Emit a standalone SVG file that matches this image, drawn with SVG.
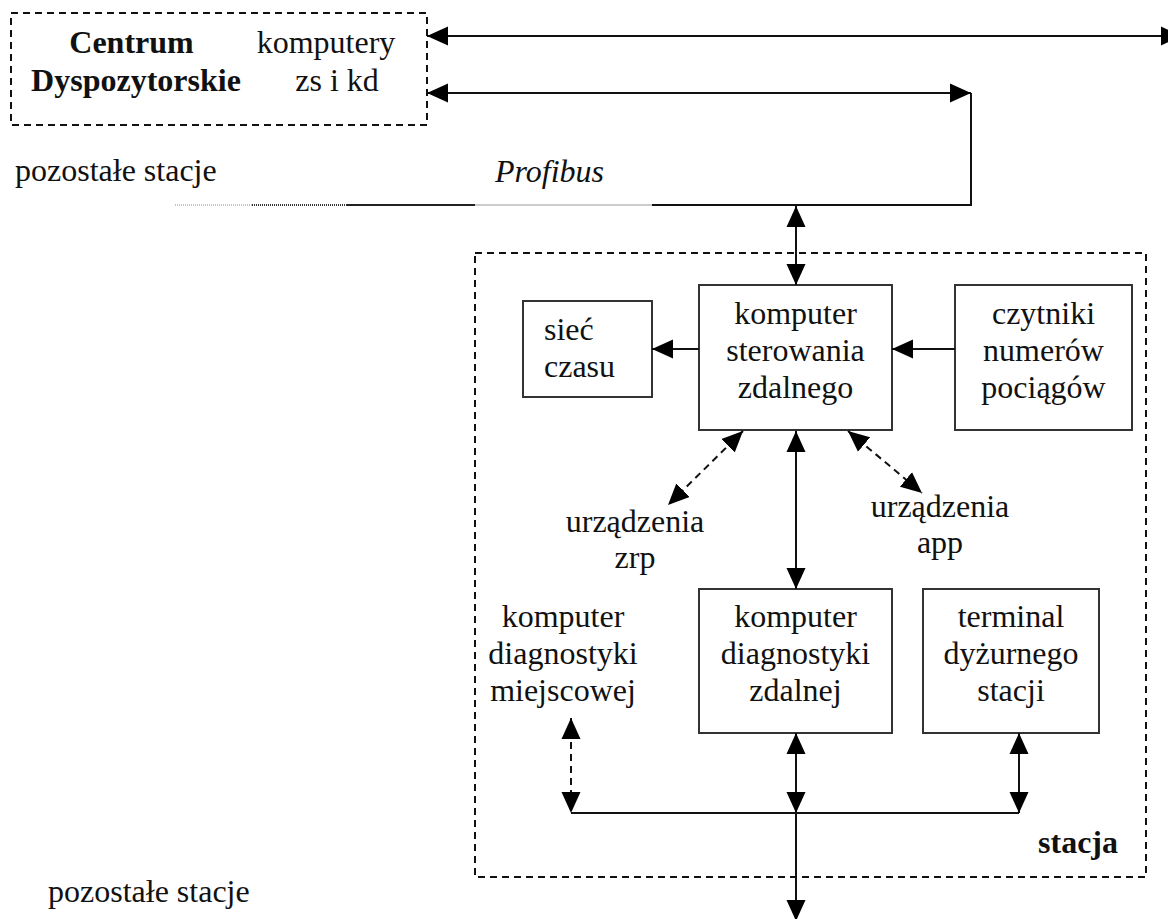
<svg xmlns="http://www.w3.org/2000/svg" width="1168" height="919" viewBox="0 0 1168 919">
  <style>
    text { font-family: "Liberation Serif", "Times New Roman", serif; font-size: 32px; fill: #111; }
    .c { text-anchor: middle; }
    .b { font-weight: bold; }
    .i { font-style: italic; }
    .box { fill: #fff; stroke: #333; stroke-width: 2; }
    .group { fill: none; stroke: #111; stroke-width: 2; stroke-dasharray: 7 5; }
    .ln { fill: none; stroke: #111; stroke-width: 2; }
    .dash { fill: none; stroke: #111; stroke-width: 2; stroke-dasharray: 7 5; }
    .arr { marker-start: url(#ah); marker-end: url(#ah); }
    .arr1 { marker-end: url(#ah); }
  </style>
  <defs>
    <marker id="ah" markerUnits="userSpaceOnUse" markerWidth="21" markerHeight="20" viewBox="0 0 21 20" refX="21" refY="10" orient="auto-start-reverse">
      <path d="M0,0.5 L21,10 L0,19.5 z" fill="#000"/>
    </marker>
  </defs>

  <rect width="1168" height="919" fill="#fff"/>

  <!-- dispatch centre -->
  <g id="centrum">
    <rect class="group" x="11" y="13" width="416" height="112"/>
    <text class="c b" x="131.5" y="53">Centrum</text>
    <text class="c b" x="136" y="91">Dyspozytorskie</text>
    <text class="c" x="326" y="53">komputery</text>
    <text class="c" x="337" y="91">zs i kd</text>
  </g>

  <!-- station frame -->
  <g id="stacja">
    <rect class="group" x="475" y="253" width="671" height="624"/>
    <text class="b" x="1118" y="853" text-anchor="end">stacja</text>
  </g>

  <g id="siec-czasu">
    <rect class="box" x="523" y="301" width="129" height="96"/>
    <text x="544" y="340">sieć</text>
    <text x="544" y="377">czasu</text>
  </g>

  <g id="komputer-sterowania">
    <rect class="box" x="699" y="285" width="193" height="145"/>
    <text class="c" x="795.5" y="324">komputer</text>
    <text class="c" x="795.5" y="361">sterowania</text>
    <text class="c" x="795.5" y="398">zdalnego</text>
  </g>

  <g id="czytniki">
    <rect class="box" x="955" y="285" width="177" height="145"/>
    <text class="c" x="1043.5" y="324">czytniki</text>
    <text class="c" x="1043.5" y="361">numerów</text>
    <text class="c" x="1043.5" y="398">pociągów</text>
  </g>

  <g id="urzadzenia-zrp">
    <text class="c" x="635" y="532">urządzenia</text>
    <text class="c" x="635" y="568">zrp</text>
  </g>

  <g id="urzadzenia-app">
    <text class="c" x="940" y="517">urządzenia</text>
    <text class="c" x="940" y="553">app</text>
  </g>

  <g id="diagnostyka-miejscowa">
    <text class="c" x="563" y="627">komputer</text>
    <text class="c" x="563" y="664">diagnostyki</text>
    <text class="c" x="563" y="701">miejscowej</text>
  </g>

  <g id="diagnostyka-zdalna">
    <rect class="box" x="699" y="589" width="193" height="144"/>
    <text class="c" x="795.5" y="627">komputer</text>
    <text class="c" x="795.5" y="664">diagnostyki</text>
    <text class="c" x="795.5" y="701">zdalnej</text>
  </g>

  <g id="terminal">
    <rect class="box" x="923" y="589" width="176" height="144"/>
    <text class="c" x="1011" y="627">terminal</text>
    <text class="c" x="1011" y="664">dyżurnego</text>
    <text class="c" x="1011" y="701">stacji</text>
  </g>

  <g id="pozostale-gora">
    <text x="15" y="181">pozostałe stacje</text>
    <text class="i" x="495" y="182">Profibus</text>
  </g>

  <g id="pozostale-dol">
    <text x="48" y="902">pozostałe stacje</text>
  </g>

  <!-- connectors -->
  <g id="connectors">
    <!-- links from the dispatch centre -->
    <line class="ln arr" x1="427" y1="36" x2="1182" y2="36"/>
    <line class="ln arr" x1="427" y1="93" x2="971" y2="93"/>
    <polyline class="ln" points="971,93 971,205 652,205"/>

    <!-- Profibus bus segments -->
    <line x1="175" y1="205" x2="252" y2="205" stroke="#888" stroke-width="1" stroke-dasharray="1 1"/>
    <line x1="252" y1="205" x2="347" y2="205" stroke="#333" stroke-width="2" stroke-dasharray="1 1"/>
    <line x1="347" y1="205" x2="475" y2="205" stroke="#222" stroke-width="2"/>
    <line x1="475" y1="205" x2="652" y2="205" stroke="#bbb" stroke-width="1.5"/>

    <!-- bus to station computer -->
    <line class="ln arr" x1="796" y1="206" x2="796" y2="285"/>

    <!-- station computer neighbours -->
    <line class="ln arr1" x1="699" y1="349" x2="652" y2="349"/>
    <line class="ln arr1" x1="955" y1="349" x2="892" y2="349"/>
    <line class="dash arr" x1="743" y1="431" x2="668" y2="505"/>
    <line class="dash arr" x1="848" y1="431" x2="922" y2="493"/>
    <line class="ln arr" x1="796" y1="431" x2="796" y2="589"/>

    <!-- local station bus -->
    <line class="ln" x1="571" y1="813" x2="1019" y2="813"/>
    <line class="dash arr" x1="571" y1="718" x2="571" y2="813"/>
    <line class="ln arr" x1="796" y1="733" x2="796" y2="813"/>
    <line class="ln arr" x1="1019" y1="733" x2="1019" y2="813"/>
    <line class="ln arr1" x1="796" y1="813" x2="796" y2="921"/>
  </g>
</svg>
